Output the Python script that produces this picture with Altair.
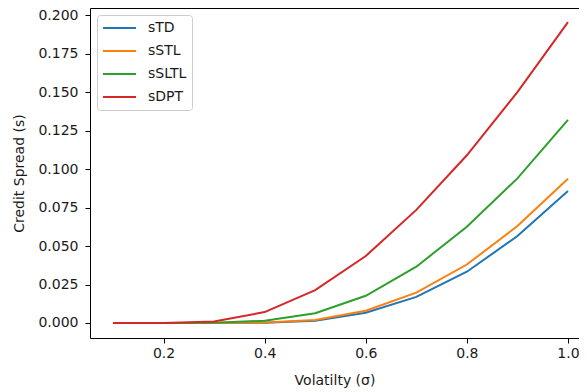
import altair as alt
import pandas as pd

sigma = [0.1, 0.2, 0.3, 0.4, 0.5, 0.6, 0.7, 0.8, 0.9, 1.0]
sTD = [0.0, 0.0, 0.0, 0.0002, 0.0015, 0.0067, 0.0170, 0.0333, 0.0565, 0.0857]
sSTL = [0.0, 0.0, 0.0, 0.0003, 0.0020, 0.0080, 0.0197, 0.0380, 0.0630, 0.0937]
sSLTL = [0.0, 0.0, 0.0001, 0.0015, 0.0063, 0.0177, 0.0366, 0.0625, 0.0940, 0.1320]
sDPT = [0.0, 0.0, 0.0010, 0.0071, 0.0214, 0.0435, 0.0735, 0.1090, 0.1500, 0.1955]

series_names = ["sTD", "sSTL", "sSLTL", "sDPT"]
series_vals = [sTD, sSTL, sSLTL, sDPT]
colors = ["#1f77b4", "#ff7f0e", "#2ca02c", "#d62728"]
x_ticks = [0.2, 0.4, 0.6, 0.8, 1.0]
y_ticks = [0.0, 0.025, 0.05, 0.075, 0.1, 0.125, 0.15, 0.175, 0.2]

rows = []
for name, vals in zip(series_names, series_vals):
    for s, v in zip(sigma, vals):
        rows.append({"sigma": s, "value": v, "series": name})
df = pd.DataFrame(rows)

FONT = "DejaVu Sans"
TXT = "#1a1a1a"

x_scale = alt.Scale(domain=[0.0545, 1.0218], nice=False, zero=False)
y_scale = alt.Scale(domain=[-0.00975, 0.2047], nice=False, zero=False)

lines = alt.Chart(df).mark_line(strokeWidth=2).encode(
    x=alt.X("sigma:Q", scale=x_scale,
            axis=alt.Axis(values=x_ticks, format=".1f", title="Volatilty (σ)",
                          grid=False, tickSize=5, labelPadding=3,
                          titlePadding=13, domainColor="#000", tickColor="#000",
                          labelFlush=False)),
    y=alt.Y("value:Q", scale=y_scale,
            axis=alt.Axis(values=y_ticks, format=".3f", title="Credit Spread (s)",
                          grid=False, tickSize=5, labelPadding=7,
                          titlePadding=11, domainColor="#000", tickColor="#000",
                          labelFlush=False)),
    color=alt.Color("series:N", sort=series_names,
                    scale=alt.Scale(domain=series_names, range=colors),
                    legend=alt.Legend(title=None, orient="none", legendX=7, legendY=7,
                                      symbolType="stroke", symbolSize=1089,
                                      symbolStrokeWidth=2, clipHeight=16,
                                      rowPadding=7, padding=5, labelOffset=11,
                                      labelFontSize=14, labelFont=FONT, labelColor=TXT,
                                      fillColor="white", strokeColor="#cccccc",
                                      cornerRadius=3)),
    order=alt.Order("sigma:Q"),
)

top_axis = alt.Chart(df).mark_line(opacity=0).encode(
    x=alt.X("sigma:Q", scale=x_scale,
            axis=alt.Axis(orient="top", labels=False, ticks=False, domain=True,
                          title=None, grid=False, domainColor="#000")),
    y=alt.Y("value:Q", scale=y_scale),
)

chart = alt.layer(lines, top_axis).resolve_axis(x="independent").properties(
    width=489, height=330,
    autosize=alt.AutoSizeParams(type="none"),
    padding={"left": 82, "top": 0, "right": 0, "bottom": 54},
).configure_view(strokeWidth=0).configure_axis(
    labelFont=FONT, labelFontSize=14, labelColor=TXT,
    titleFont=FONT, titleFontSize=14, titleColor=TXT, titleFontWeight="normal",
    domainWidth=1, tickWidth=1,
)

chart.save("out.html", embed_options={"renderer": "svg", "actions": False})
